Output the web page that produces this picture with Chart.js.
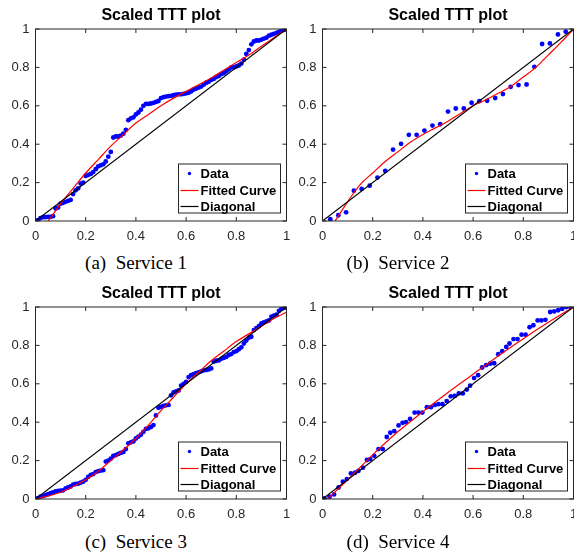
<!DOCTYPE html>
<html>
<head>
<meta charset="utf-8">
<script src="https://cdn.jsdelivr.net/npm/chart.js@4.4.1/dist/chart.umd.min.js"></script>
<style>
  body { margin: 0; background: #fff; width: 574px; height: 552px; overflow: hidden; position: relative; }
  canvas { position: absolute; }
  .cap { position: absolute; font-family: "Liberation Serif", "Times New Roman", serif; font-size: 19px; line-height: 19px; color: #000; white-space: pre; transform: translateX(-50%); }
</style>
</head>
<body>
<canvas id="c1" width="300" height="250" style="left:0;top:0"></canvas>
<canvas id="c2" width="300" height="250" style="left:287px;top:0"></canvas>
<canvas id="c3" width="300" height="250" style="left:0;top:278px"></canvas>
<canvas id="c4" width="300" height="250" style="left:287px;top:278px"></canvas>
<div class="cap" style="left:136px;top:253px">(a)  Service 1</div>
<div class="cap" style="left:398px;top:253px">(b)  Service 2</div>
<div class="cap" style="left:136px;top:532px">(c)  Service 3</div>
<div class="cap" style="left:398px;top:532px">(d)  Service 4</div>
<script>
const tickValues = [0, 0.2, 0.4, 0.6, 0.8, 1];
const tickLabels = ['0', '0.2', '0.4', '0.6', '0.8', '1'];
const seriesNames = ['Data', 'Fitted Curve', 'Diagonal'];
const diagX = [0, 1];
const diagY = [0, 1];

// Service 1
const s1X = [0.01,0.02,0.03,0.04,0.05,0.06,0.07,0.08,0.09,0.10,0.11,0.12,0.13,0.14,0.15,0.16,0.17,0.18,0.19,0.20,
  0.21,0.22,0.23,0.24,0.25,0.26,0.27,0.28,0.29,0.30,0.31,0.32,0.33,0.34,0.35,0.36,0.37,0.38,0.39,0.40,
  0.41,0.42,0.43,0.44,0.45,0.46,0.47,0.48,0.49,0.50,0.51,0.52,0.53,0.54,0.55,0.56,0.57,0.58,0.59,0.60,
  0.61,0.62,0.63,0.64,0.65,0.66,0.67,0.68,0.69,0.70,0.71,0.72,0.73,0.74,0.75,0.76,0.77,0.78,0.79,0.80,
  0.81,0.82,0.83,0.84,0.85,0.86,0.87,0.88,0.89,0.90,0.91,0.92,0.93,0.94,0.95,0.96,0.97,0.98,0.99,1.00];
const s1Y = [0.005,0.015,0.02,0.02,0.022,0.022,0.025,0.065,0.07,0.09,0.095,0.10,0.105,0.11,0.14,0.16,0.17,0.195,0.20,0.235,
  0.24,0.245,0.255,0.27,0.285,0.29,0.295,0.31,0.335,0.36,0.435,0.44,0.44,0.445,0.455,0.475,0.525,0.535,0.54,0.555,
  0.565,0.58,0.60,0.61,0.61,0.612,0.615,0.62,0.625,0.64,0.645,0.648,0.65,0.652,0.655,0.658,0.66,0.66,0.662,0.665,
  0.668,0.675,0.685,0.69,0.695,0.70,0.71,0.72,0.725,0.735,0.74,0.75,0.755,0.765,0.77,0.78,0.79,0.80,0.80,0.805,
  0.81,0.82,0.84,0.87,0.89,0.92,0.935,0.94,0.94,0.945,0.95,0.955,0.965,0.97,0.975,0.98,0.985,0.99,0.995,1.0];
const f1X = [0.05,0.07,0.10,0.15,0.20,0.25,0.30,0.35,0.40,0.45,0.50,0.55,0.60,0.65,0.70,0.75,0.80,0.85,0.90,0.95,1.00];
const f1Y = [0,0.035,0.09,0.17,0.25,0.32,0.39,0.45,0.51,0.555,0.60,0.64,0.675,0.71,0.745,0.785,0.825,0.865,0.91,0.955,1.0];

// Service 2
const s2X = [0.031,0.063,0.094,0.125,0.156,0.188,0.219,0.25,0.281,0.313,0.344,0.375,0.406,0.438,0.469,0.5,
  0.531,0.563,0.594,0.625,0.656,0.688,0.719,0.75,0.781,0.813,0.844,0.875,0.906,0.938,0.969,1.0];
const s2Y = [0.009,0.03,0.045,0.158,0.167,0.184,0.226,0.261,0.372,0.402,0.449,0.449,0.471,0.497,0.504,0.57,
  0.586,0.586,0.616,0.624,0.626,0.64,0.661,0.699,0.708,0.711,0.803,0.922,0.925,0.972,0.986,1.0];
const f2X = [0.05,0.07,0.10,0.15,0.20,0.25,0.30,0.35,0.40,0.45,0.50,0.55,0.60,0.65,0.70,0.75,0.80,0.85,0.90,0.95,1.00];
const f2Y = [0,0.04,0.1,0.19,0.25,0.31,0.36,0.41,0.45,0.485,0.52,0.56,0.60,0.63,0.665,0.70,0.75,0.80,0.865,0.93,1.0];

// Service 3
const s3X = s1X;
const s3Y = [0.005,0.012,0.015,0.02,0.025,0.03,0.035,0.04,0.042,0.043,0.045,0.055,0.06,0.065,0.075,0.078,0.08,0.085,0.09,0.10,
  0.115,0.125,0.13,0.14,0.145,0.148,0.15,0.195,0.20,0.21,0.225,0.228,0.235,0.24,0.245,0.26,0.29,0.295,0.30,0.315,
  0.325,0.335,0.35,0.365,0.368,0.375,0.385,0.435,0.475,0.48,0.485,0.488,0.49,0.54,0.555,0.56,0.565,0.59,0.60,0.61,
  0.635,0.645,0.65,0.655,0.66,0.665,0.67,0.672,0.675,0.68,0.715,0.72,0.722,0.73,0.735,0.74,0.75,0.755,0.765,0.77,
  0.78,0.79,0.81,0.825,0.84,0.845,0.88,0.89,0.90,0.915,0.92,0.925,0.93,0.95,0.955,0.96,0.98,0.99,0.995,1.0];
const f3X = [0,0.05,0.10,0.15,0.20,0.25,0.30,0.35,0.40,0.45,0.50,0.55,0.60,0.65,0.70,0.75,0.80,0.85,0.90,0.95,1.00];
const f3Y = [0,0.015,0.035,0.065,0.10,0.145,0.20,0.255,0.315,0.385,0.46,0.53,0.60,0.66,0.72,0.77,0.82,0.86,0.90,0.94,0.973];

// Service 4
const s4X = [0.008,0.028,0.046,0.064,0.081,0.097,0.113,0.13,0.143,0.161,0.177,0.19,0.206,0.223,0.24,0.256,0.27,0.286,0.303,0.319,
  0.333,0.349,0.367,0.382,0.398,0.416,0.432,0.448,0.462,0.478,0.495,0.511,0.527,0.543,0.559,0.575,0.588,0.604,0.62,0.636,
  0.652,0.668,0.684,0.70,0.716,0.732,0.745,0.761,0.777,0.793,0.809,0.825,0.84,0.857,0.872,0.888,0.907,0.923,0.939,0.955,0.971,0.987];
const s4Y = [0.003,0.012,0.024,0.06,0.09,0.104,0.133,0.137,0.146,0.163,0.203,0.208,0.225,0.26,0.26,0.323,0.345,0.353,0.383,0.397,
  0.40,0.417,0.45,0.45,0.45,0.478,0.478,0.49,0.494,0.494,0.51,0.535,0.537,0.55,0.55,0.57,0.59,0.63,0.645,0.685,
  0.697,0.705,0.707,0.754,0.77,0.792,0.81,0.833,0.833,0.856,0.856,0.895,0.905,0.93,0.93,0.933,0.974,0.977,0.983,0.991,1.0,1.0];
const f4X = [0.02,0.10,0.20,0.30,0.40,0.50,0.60,0.70,0.80,0.90,1.00];
const f4Y = [0,0.10,0.23,0.35,0.455,0.555,0.65,0.745,0.835,0.92,1.0];

function pts(xs, ys) {
  return xs.map((x, i) => ({ x: x, y: ys[i] }));
}

const axesBox = {
  id: 'axesBox',
  afterDraw(chart) {
    const { ctx, chartArea: a, scales: { x, y } } = chart;
    ctx.save();
    ctx.strokeStyle = '#262626';
    ctx.lineWidth = 1;
    ctx.strokeRect(a.left, a.top, a.right - a.left, a.bottom - a.top);
    ctx.beginPath();
    tickValues.forEach(v => {
      const px = x.getPixelForValue(v), py = y.getPixelForValue(v);
      ctx.moveTo(px, a.bottom); ctx.lineTo(px, a.bottom - 4);
      ctx.moveTo(px, a.top); ctx.lineTo(px, a.top + 4);
      ctx.moveTo(a.left, py); ctx.lineTo(a.left + 4, py);
      ctx.moveTo(a.right, py); ctx.lineTo(a.right - 4, py);
    });
    ctx.stroke();

    // legend box, lower right inside the axes
    const w = 102, h = 49;
    const lx = a.right - 6 - w, ly = a.bottom - 8 - h;
    ctx.fillStyle = '#fff';
    ctx.fillRect(lx, ly, w, h);
    ctx.strokeRect(lx, ly, w, h);
    const rows = [9.5, 26.5, 42.5];
    ctx.font = 'bold 13px "Liberation Sans", Arial, sans-serif';
    ctx.textBaseline = 'middle';
    chart.data.datasets.forEach((ds, i) => {
      const ry = ly + rows[i];
      if (ds.showLine) {
        ctx.strokeStyle = ds.borderColor;
        ctx.lineWidth = 1.2;
        ctx.beginPath();
        ctx.moveTo(lx + 2, ry); ctx.lineTo(lx + 20, ry);
        ctx.stroke();
      } else {
        ctx.fillStyle = ds.backgroundColor;
        ctx.beginPath();
        ctx.arc(lx + 11, ry, 1.7, 0, Math.PI * 2);
        ctx.fill();
      }
      ctx.fillStyle = '#000';
      ctx.fillText(ds.label, lx + 22, ry + 0.5);
    });
    ctx.restore();
  }
};

function axis(isX) {
  return {
    type: 'linear', min: 0, max: 1,
    grid: { display: false, drawTicks: false },
    border: { display: false },
    afterBuildTicks: s => { s.ticks = tickValues.map(v => ({ value: v })); },
    afterFit: s => { if (isX) s.height = 29; else s.width = 35.5; },
    ticks: {
      callback: (v, i) => tickLabels[i],
      padding: isX ? 8 : 6,
      color: '#262626',
      autoSkip: false, maxRotation: 0,
      font: { family: 'Liberation Sans', size: 13 }
    }
  };
}

function makePanel(id, dx, dy, fx, fy) {
  new Chart(document.getElementById(id), {
    type: 'scatter',
    data: {
      datasets: [
        { label: seriesNames[0], data: pts(dx, dy), showLine: false, pointRadius: 2.4, pointBorderWidth: 0,
          backgroundColor: '#0000ff', borderColor: '#0000ff', order: 3 },
        { label: seriesNames[1], data: pts(fx, fy), showLine: true, pointRadius: 0, borderWidth: 1.2,
          borderColor: '#ff0000', cubicInterpolationMode: 'monotone', order: 2 },
        { label: seriesNames[2], data: pts(diagX, diagY), showLine: true, pointRadius: 0, borderWidth: 1.1,
          borderColor: '#000000', order: 1 }
      ]
    },
    options: {
      responsive: false,
      animation: false,
      events: [],
      layout: { padding: { top: 0, right: 13.5, bottom: 0, left: 0 } },
      plugins: {
        legend: { display: false },
        tooltip: { enabled: false },
        title: {
          display: true, text: 'Scaled TTT plot', color: '#000', fullSize: false,
          font: { family: 'Liberation Sans', size: 16, weight: 'bold' },
          padding: { top: 5.5, bottom: 4.3 }
        }
      },
      scales: { x: axis(true), y: axis(false) }
    },
    plugins: [axesBox]
  });
}

makePanel('c1', s1X, s1Y, f1X, f1Y);
makePanel('c2', s2X, s2Y, f2X, f2Y);
makePanel('c3', s3X, s3Y, f3X, f3Y);
makePanel('c4', s4X, s4Y, f4X, f4Y);
</script>
</body>
</html>
